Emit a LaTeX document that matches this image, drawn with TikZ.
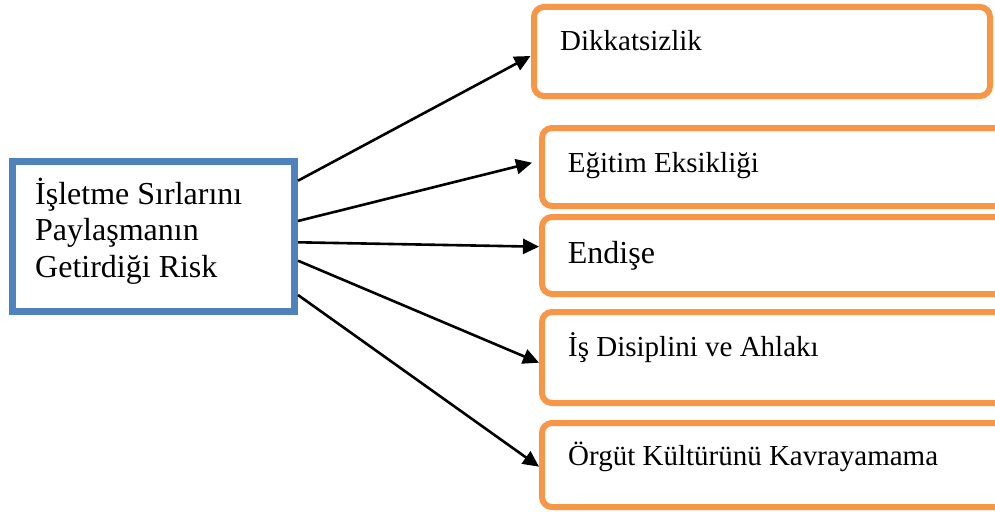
\documentclass[tikz,border=0pt]{standalone}
\usepackage{fontspec}
\setmainfont{Liberation Serif}
\usetikzlibrary{arrows.meta}
\definecolor{boxblue}{HTML}{4F81BD}
\definecolor{boxorange}{HTML}{F79646}
\tikzset{
  srcbox/.style={draw=boxblue, line width=7pt, rectangle, inner sep=0pt},
  riskbox/.style={draw=boxorange, line width=6pt, rectangle, rounded corners=10pt, inner sep=0pt},
  boxtext/.style={anchor=base west, inner sep=0pt, font=\fontsize{29}{33}\selectfont},
  link/.style={line width=2.6pt, -{Triangle[length=16pt,width=15pt]}}
}
\begin{document}
\begin{tikzpicture}[x=1pt, y=-1pt]
  \clip (0,0) rectangle (995,511);
  \fill[white] (0,0) rectangle (995,511);

  % central cause
  \node[srcbox, minimum width=282pt, minimum height=150pt] (src) at (153.5,236.5) {};
  \node[anchor=base west, inner sep=0pt, align=left,
        font=\fontsize{32}{36.8}\selectfont] (srctext) at (35,277.7)
        {İşletme Sırlarını\\Paylaşmanın\\Getirdiği Risk};

  % consequences
  \node[riskbox, minimum width=456pt, minimum height=89pt] (b1) at (762,51.5) {};
  \node[riskbox, minimum width=468pt, minimum height=78pt] (b2) at (776,167) {};
  \node[riskbox, minimum width=468pt, minimum height=77pt] (b3) at (776,255.5) {};
  \node[riskbox, minimum width=468pt, minimum height=91pt] (b4) at (776,357.5) {};
  \node[riskbox, minimum width=468pt, minimum height=84pt] (b5) at (776,465) {};

  \node[boxtext] (t1) at (560,51) {Dikkatsizlik};
  \node[boxtext] (t2) at (567.7,172.3) {Eğitim Eksikliği};
  \node[boxtext, font=\fontsize{32}{36}\selectfont] (t3) at (567.7,263.3) {Endişe};
  \node[boxtext] (t4) at (568,356) {İş Disiplini ve Ahlakı};
  \node[boxtext] (t5) at (568,465.7) {Örgüt Kültürünü Kavrayamama};

  % connectors
  \draw[link] ([yshift=55.8pt]src.east) -- ([xshift=-0.5pt,yshift=-4.5pt]b1.west);
  \draw[link] ([yshift=15.5pt]src.east) -- ([xshift=-7pt,yshift=4.3pt]b2.west);
  \draw[link] ([yshift=-5.8pt]src.east) -- ([yshift=8.8pt]b3.west);
  \draw[link] ([yshift=-24.2pt]src.east) -- ([yshift=-5.2pt]b4.west);
  \draw[link] ([yshift=-58.5pt]src.east) -- ([yshift=-1.7pt]b5.west);
\end{tikzpicture}
\end{document}
